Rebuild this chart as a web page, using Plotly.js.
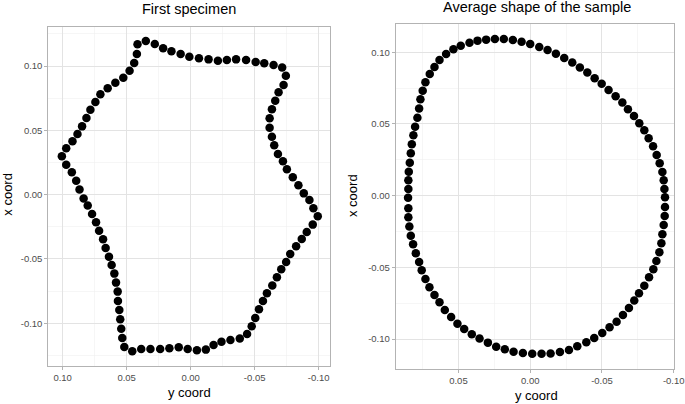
<!DOCTYPE html>
<html>
<head>
<meta charset="utf-8">
<script src="https://cdn.plot.ly/plotly-3.0.1.min.js"></script>
<style>
  html, body { margin: 0; padding: 0; background: #fff; }
  #plot { width: 685px; height: 404px; }
</style>
</head>
<body>
<div id="plot"></div>
<script>
// First specimen outline (y coord on horizontal axis, x coord on vertical axis)
var specY = [0.0350, 0.0280, 0.0215, 0.0150, 0.0078, 0.0010, -0.0065, -0.0140, -0.0213, -0.0283,
  -0.0355, -0.0433, -0.0508, -0.0575, -0.0648, -0.0715, -0.0744, -0.0726, -0.0687, -0.0661,
  -0.0635, -0.0617, -0.0617, -0.0635, -0.0653, -0.0682, -0.0721, -0.0752, -0.0798, -0.0842,
  -0.0884, -0.0928, -0.0959, -0.0993, -0.0954, -0.0907, -0.0868, -0.0824, -0.0778, -0.0746,
  -0.0708, -0.0674, -0.0638, -0.0596, -0.0565, -0.0534, -0.0505, -0.0477, -0.0441, -0.0384,
  -0.0311, -0.0241, -0.0179, -0.0119, -0.0049, 0.0023, 0.0093, 0.0166, 0.0238, 0.0314,
  0.0386, 0.0456, 0.0518, 0.0534, 0.0542, 0.0550, 0.0557, 0.0568, 0.0570, 0.0583,
  0.0596, 0.0617, 0.0638, 0.0664, 0.0684, 0.0715, 0.0739, 0.0770, 0.0804, 0.0836,
  0.0868, 0.0894, 0.0928, 0.0972, 0.1006, 0.0972, 0.0923, 0.0884, 0.0848, 0.0814,
  0.0783, 0.0744, 0.0705, 0.0648, 0.0588, 0.0526, 0.0477, 0.0441, 0.0420, 0.0415];
var specX = [0.1195, 0.1172, 0.1138, 0.1115, 0.1094, 0.1073, 0.1060, 0.1052, 0.1042, 0.1047,
  0.1052, 0.1047, 0.1032, 0.1021, 0.1008, 0.0988, 0.0925, 0.0853, 0.0796, 0.0731,
  0.0664, 0.0594, 0.0521, 0.0451, 0.0384, 0.0316, 0.0259, 0.0197, 0.0135, 0.0073,
  0.0010, -0.0041, -0.0106, -0.0168, -0.0233, -0.0290, -0.0344, -0.0401, -0.0461, -0.0523,
  -0.0580, -0.0643, -0.0707, -0.0767, -0.0827, -0.0891, -0.0959, -0.1024, -0.1083, -0.1119,
  -0.1130, -0.1143, -0.1169, -0.1205, -0.1210, -0.1200, -0.1187, -0.1195, -0.1200, -0.1200,
  -0.1200, -0.1218, -0.1184, -0.1114, -0.1042, -0.0969, -0.0897, -0.0827, -0.0754, -0.0684,
  -0.0614, -0.0547, -0.0482, -0.0414, -0.0347, -0.0280, -0.0215, -0.0150, -0.0085, -0.0030,
  0.0041, 0.0109, 0.0174, 0.0233, 0.0298, 0.0360, 0.0415, 0.0472, 0.0531, 0.0596,
  0.0661, 0.0721, 0.0780, 0.0827, 0.0871, 0.0910, 0.0964, 0.1024, 0.1094, 0.1169];

// Average shape of the sample
var meanY = [0.0484, 0.0423, 0.0367, 0.0307, 0.0246, 0.0184, 0.0121, 0.0060, 0.0000, -0.0063,
  -0.0121, -0.0179, -0.0237, -0.0293, -0.0346, -0.0398, -0.0449, -0.0498, -0.0546, -0.0595,
  -0.0642, -0.0681, -0.0723, -0.0760, -0.0795, -0.0825, -0.0856, -0.0881, -0.0902, -0.0921,
  -0.0930, -0.0935, -0.0939, -0.0939, -0.0937, -0.0930, -0.0921, -0.0914, -0.0900, -0.0879,
  -0.0858, -0.0828, -0.0795, -0.0758, -0.0725, -0.0688, -0.0646, -0.0602, -0.0553, -0.0502,
  -0.0446, -0.0391, -0.0328, -0.0270, -0.0207, -0.0142, -0.0079, -0.0014, 0.0051, 0.0116,
  0.0177, 0.0237, 0.0295, 0.0353, 0.0407, 0.0460, 0.0507, 0.0551, 0.0595, 0.0632,
  0.0667, 0.0702, 0.0730, 0.0756, 0.0774, 0.0797, 0.0816, 0.0832, 0.0842, 0.0849,
  0.0849, 0.0851, 0.0849, 0.0849, 0.0846, 0.0839, 0.0832, 0.0825, 0.0814, 0.0802,
  0.0786, 0.0774, 0.0765, 0.0749, 0.0730, 0.0700, 0.0667, 0.0632, 0.0586, 0.0535];
var meanX = [0.1046, 0.1067, 0.1081, 0.1088, 0.1093, 0.1093, 0.1086, 0.1074, 0.1058, 0.1037,
  0.1016, 0.0990, 0.0960, 0.0928, 0.0893, 0.0858, 0.0818, 0.0781, 0.0737, 0.0693,
  0.0649, 0.0602, 0.0556, 0.0505, 0.0456, 0.0400, 0.0344, 0.0284, 0.0226, 0.0165,
  0.0107, 0.0047, -0.0012, -0.0079, -0.0142, -0.0204, -0.0269, -0.0332, -0.0395, -0.0455,
  -0.0514, -0.0569, -0.0628, -0.0681, -0.0732, -0.0783, -0.0832, -0.0879, -0.0918, -0.0958,
  -0.0993, -0.1023, -0.1051, -0.1076, -0.1090, -0.1100, -0.1102, -0.1102, -0.1097, -0.1088,
  -0.1072, -0.1053, -0.1025, -0.0997, -0.0967, -0.0930, -0.0893, -0.0846, -0.0797, -0.0744,
  -0.0693, -0.0639, -0.0581, -0.0521, -0.0462, -0.0402, -0.0339, -0.0279, -0.0216, -0.0151,
  -0.0088, -0.0014, 0.0047, 0.0107, 0.0167, 0.0230, 0.0295, 0.0358, 0.0421, 0.0481,
  0.0544, 0.0607, 0.0672, 0.0732, 0.0791, 0.0849, 0.0897, 0.0946, 0.0988, 0.1021];

var tickVals = [0.10, 0.05, 0.00, -0.05, -0.10];
var tickText = ['0.10', '0.05', '0.00', '-0.05', '-0.10'];

var font = 'Liberation Sans, Arial, sans-serif';

function axis(domain, range, anchor) {
  return {
    domain: domain,
    range: range,
    anchor: anchor,
    tickvals: tickVals,
    ticktext: tickText,
    ticks: 'outside',
    ticklen: 3,
    tickwidth: 1,
    tickcolor: '#b3b3b3',
    tickfont: {family: font, size: 9.5, color: '#4d4d4d'},
    showline: true,
    mirror: true,
    linecolor: '#b3b3b3',
    linewidth: 1,
    showgrid: true,
    gridcolor: '#e3e3e3',
    gridwidth: 1,
    zeroline: false,
    minor: {dtick: 0.025, tick0: 0, showgrid: true, gridcolor: '#f0f0f0', gridwidth: 0.6, ticks: ''},
    fixedrange: true
  };
}

var marker = {color: '#000000', size: 8.5};

var data = [
  {x: specY, y: specX, type: 'scatter', mode: 'markers', marker: marker, xaxis: 'x', yaxis: 'y', hoverinfo: 'skip'},
  {x: meanY, y: meanX, type: 'scatter', mode: 'markers', marker: marker, xaxis: 'x2', yaxis: 'y2', hoverinfo: 'skip'}
];

function label(text, x, y, size, angle) {
  return {text: text, x: x, y: y, xref: 'paper', yref: 'paper', showarrow: false,
    xanchor: 'center', yanchor: 'middle', textangle: angle || 0,
    font: {family: font, size: size, color: '#000000'}};
}

var layout = {
  width: 685,
  height: 404,
  margin: {l: 0, r: 0, t: 0, b: 0},
  paper_bgcolor: '#ffffff',
  plot_bgcolor: '#ffffff',
  showlegend: false,
  xaxis: axis([0.0705, 0.4818], [0.1112, -0.1089], 'y'),
  yaxis: axis([0.0948, 0.9339], [-0.1330, 0.1306], 'x'),
  xaxis2: axis([0.5777, 0.9844], [0.0937, -0.1004], 'y2'),
  yaxis2: axis([0.0866, 0.9406], [-0.1209, 0.1197], 'x2'),
  annotations: [
    label('First specimen', 189 / 685, 1 - 9 / 404, 14.5),
    label('Average shape of the sample', 536.5 / 685, 1 - 7 / 404, 14.5),
    label('y coord', 189.5 / 685, 1 - 392 / 404, 13),
    label('y coord', 536.5 / 685, 1 - 395 / 404, 13),
    label('x coord', 6.7 / 685, 1 - 194 / 404, 13, -90),
    label('x coord', 352 / 685, 1 - 196 / 404, 13, -90)
  ]
};

Plotly.newPlot('plot', data, layout, {displayModeBar: false, staticPlot: true});
</script>
</body>
</html>
